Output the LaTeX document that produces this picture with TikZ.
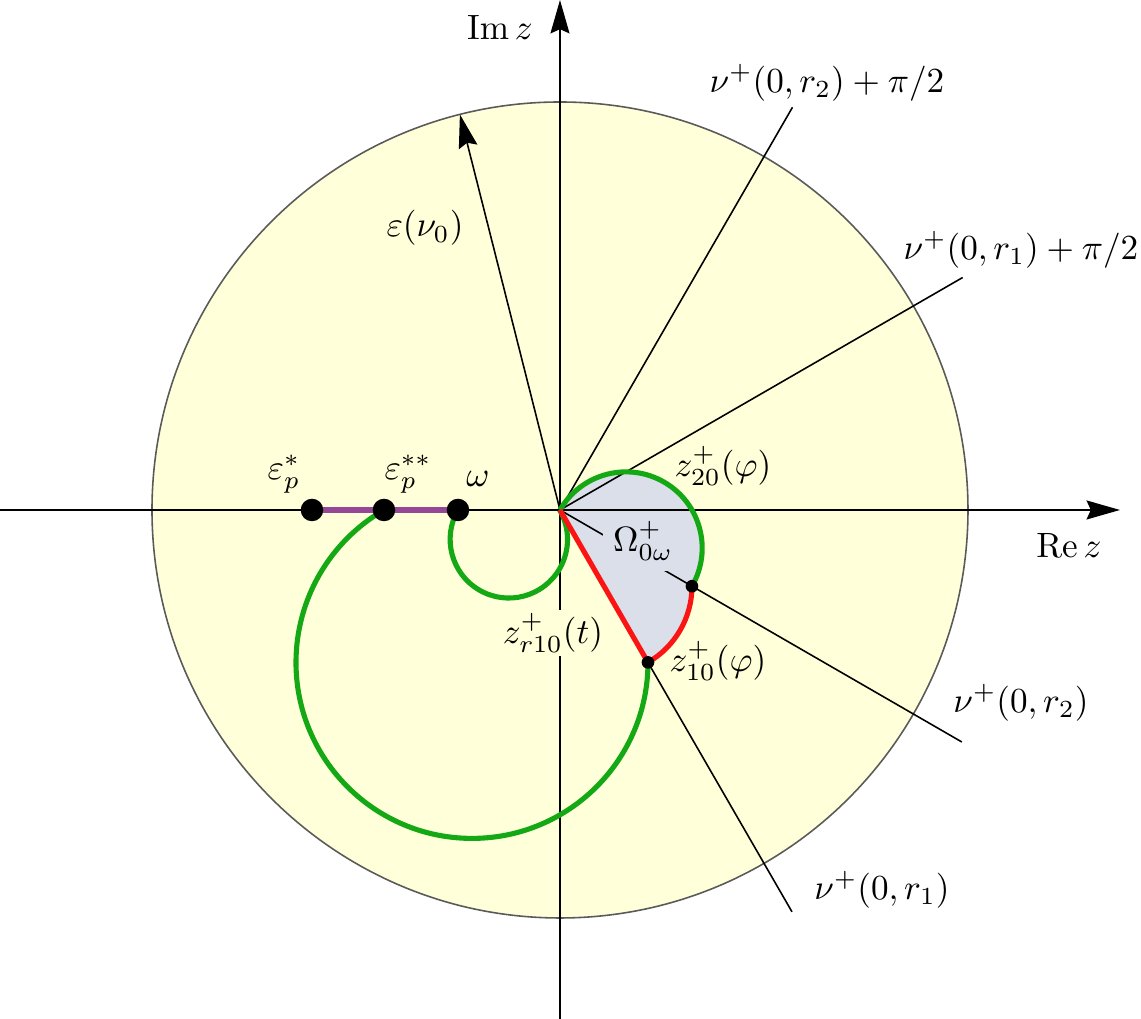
\documentclass[tikz,border=0pt]{standalone}
\usepackage{amsmath}
\usetikzlibrary{arrows.meta}
\definecolor{bgyellow}{RGB}{255,255,217}
\definecolor{regionblue}{RGB}{219,223,234}
\definecolor{curvegreen}{RGB}{20,168,20}
\definecolor{curvered}{RGB}{250,20,20}
\definecolor{segpurple}{RGB}{150,70,150}
\definecolor{rimgray}{RGB}{90,90,90}
\begin{document}
\begin{tikzpicture}[x=0.01cm,y=0.01cm,
  axis/.style={line width=0.45pt},
  arr/.style={-{Stealth[length=9.5pt,width=5.4pt,inset=1.2pt]}},
  gcurve/.style={curvegreen,line width=1.45pt},
  rcurve/.style={curvered,line width=1.45pt,line join=round},
  pseg/.style={segpurple,line width=1.45pt},
  bigdot/.style={circle,fill=black,inner sep=0pt,minimum size=6.4pt},
  smalldot/.style={circle,fill=black,inner sep=0pt,minimum size=3.6pt},
  lab/.style={inner sep=1pt}]
\useasboundingbox (-560,-509) rectangle (581,510);
% disc
\coordinate (O) at (0,0);
\fill[bgyellow] (O) circle[radius=408];
\draw[rimgray,line width=0.45pt] (O) circle[radius=408];
% key points
\coordinate (P1) at (-30:152.4);
\coordinate (P2) at (-60:176);
\coordinate (Es) at (-248,0);
\coordinate (Ess) at (-176,0);
\coordinate (W) at (-102,0);
% region
\fill[regionblue] (O) arc[start angle=150,end angle=-30,radius=76.2]
   arc[start angle=0,end angle=-60,radius=88] -- cycle;
% axes
\coordinate (xl) at (-560,0);
\coordinate (xr) at (560,0);
\coordinate (yb) at (0,-509);
\coordinate (yt) at (0,510);
\draw[axis,arr] (xl) -- (xr);
\draw[axis,arr] (yb) -- (yt);
% rays
\coordinate (R60) at (60:465);
\coordinate (R30) at (30:465);
\coordinate (Rm30) at (-30:464);
\coordinate (Rm60) at (-60:464);
\draw[axis] (O) -- (R60);
\draw[axis] (O) -- (R30);
\draw[axis] (O) -- (Rm30);
\draw[axis] (O) -- (Rm60);
% epsilon arrow
\coordinate (Eps) at (104.2:408);
\draw[axis,arr] (O) -- (Eps);
% labels needing fill
\node[fill=regionblue,inner sep=3pt] (lOm) at (83,-31) {$\Omega^+_{0\omega}$};
\node[fill=bgyellow,inner sep=1pt] (lzr) at (-7,-123) {$z^+_{r10}(t)$};
% curves
\draw[gcurve] (W) arc[start angle=150,end angle=390,radius=58.7];
\draw[gcurve] (P2) arc[start angle=0,end angle=-240,radius=176];
\draw[gcurve] (O) arc[start angle=150,end angle=-30,radius=76.2];
\draw[rcurve] (P1) arc[start angle=0,end angle=-60,radius=88] -- (O);
\draw[pseg] (Es) -- (W);
% dots
\node[bigdot] (dEs) at (Es) {};
\node[bigdot] (dEss) at (Ess) {};
\node[bigdot] (dW) at (W) {};
\node[smalldot] (dP1) at (P1) {};
\node[smalldot] (dP2) at (P2) {};
% labels
\node[lab] (lIm) at (-60,482) {$\operatorname{Im} z$};
\node[lab] (lRe) at (509,-36) {$\operatorname{Re} z$};
\node[lab] (lEps) at (-135,282) {$\varepsilon(\nu_0)$};
\node[lab] (lR60) at (267,427) {$\nu^+(0,r_2)+\pi/2$};
\node[lab] (lR30) at (461,260) {$\nu^+(0,r_1)+\pi/2$};
\node[lab] (lRm30) at (461,-193) {$\nu^+(0,r_2)$};
\node[lab] (lRm60) at (322,-380) {$\nu^+(0,r_1)$};
\node[lab] (lz20) at (163,44) {$z^+_{20}(\varphi)$};
\node[lab] (lz10) at (158,-151) {$z^+_{10}(\varphi)$};
\node[lab] (lEs) at (-276,36) {$\varepsilon^*_p$};
\node[lab] (lEss) at (-152,36) {$\varepsilon^{**}_p$};
\node[lab] (lW) at (-82,31) {$\omega$};
\end{tikzpicture}
\end{document}
